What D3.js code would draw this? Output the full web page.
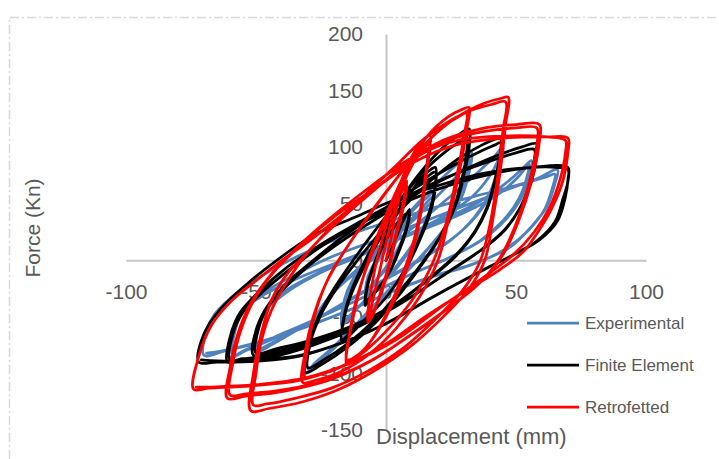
<!DOCTYPE html>
<html>
<head>
<meta charset="utf-8">
<script src="https://cdn.jsdelivr.net/npm/d3@7"></script>
<style>
  html, body { margin: 0; padding: 0; background: #fff; }
  svg { display: block; }
  text { font-family: "Liberation Sans", Arial, sans-serif; fill: #595959; }
</style>
</head>
<body>
<div id="chart"></div>
<script>
// Cyclic load test: force (kN) against displacement (mm), as [displacement, force] pairs in load order.
const experimental = [
  [0,0],[3,12],[6,26],[8,35],[7,22],[4,8],[0,-6],[-4,-18],[-7,-28],[-8,-33],
  [-7,-18],[-4,-4],[0,10],[4,22],[7,30],[8,32],[7,20],[4,6],[0,-8],[-4,-18],[-7,-26],[-8,-30],
  [-7,-15],[-4,0],[0,15],[6,33],[12,48],[16,56],[18,60],
  [17,45],[14,28],[9,10],[3,-8],[-4,-25],[-10,-40],[-15,-53],[-17,-58],
  [-16,-38],[-13,-20],[-8,-4],[-1,12],[7,30],[13,44],[16,52],[18,56],
  [17,42],[14,26],[9,8],[3,-10],[-4,-26],[-10,-40],[-15,-51],[-17,-55],
  [-16,-35],[-13,-18],[-7,0],[0,18],[8,40],[17,62],[25,80],[30,90],[33,95],
  [32,78],[29,55],[24,33],[17,12],[8,-10],[-2,-35],[-12,-60],[-21,-80],[-28,-95],[-31,-100],
  [-30,-72],[-27,-50],[-21,-30],[-12,-10],[-2,10],[9,32],[19,55],[27,74],[31,85],[32,90],
  [31,74],[28,52],[23,30],[16,10],[7,-12],[-3,-36],[-13,-60],[-21,-78],[-27,-90],[-30,-96],
  [-29,-70],[-26,-48],[-20,-28],[-10,-8],[0,10],[12,32],[24,55],[34,75],[41,90],[45,100],
  [44,85],[41,62],[35,40],[26,20],[14,2],[0,-16],[-15,-36],[-30,-56],[-42,-72],[-48,-80],[-50,-82],
  [-49,-60],[-46,-44],[-38,-28],[-26,-12],[-12,2],[4,18],[20,36],[33,56],[40,75],[43,88],[44,96],
  [43,82],[40,60],[34,38],[25,18],[13,0],[-1,-18],[-16,-38],[-31,-57],[-43,-72],[-48,-78],[-50,-80],
  [-49,-58],[-46,-42],[-38,-26],[-25,-10],[-10,5],[6,20],[22,36],[36,52],[46,68],[52,80],[56,88],
  [55,74],[52,55],[46,36],[37,18],[24,2],[8,-14],[-8,-32],[-25,-50],[-42,-68],[-54,-80],[-60,-86],
  [-59,-62],[-56,-46],[-48,-32],[-35,-17],[-20,-3],[-4,11],[13,26],[30,42],[43,58],[51,74],[55,85],
  [54,72],[51,54],[45,35],[36,17],[23,1],[7,-15],[-9,-33],[-26,-51],[-43,-68],[-54,-79],[-59,-84],
  [-58,-62],[-55,-45],[-48,-30],[-36,-14],[-22,2],[-6,16],[12,32],[30,48],[46,62],[58,72],[66,80],
  [65,68],[62,48],[56,30],[48,12],[35,-2],[18,-14],[3,-27],[-12,-42],[-30,-58],[-48,-72],[-62,-80],[-70,-84],
  [-69,-62],[-66,-48],[-57,-28],[-42,-6],[-22,16],[-6,29],[12,42],[30,54],[45,63],[56,70],[62,74],[65,76],
  [64,64],[61,45],[55,27],[46,10],[33,-4],[16,-16],[1,-29],[-14,-44],[-32,-60],[-50,-73],[-63,-80],[-69,-82]
];

const finiteElement = [
  [0,0],[3,15],[6,32],[9,45],[8,30],[5,10],[1,-12],[-4,-28],[-7,-37],[-8,-40],
  [-7,-22],[-4,-2],[0,18],[4,32],[7,40],[9,42],[8,28],[5,8],[1,-12],[-4,-27],[-7,-35],[-8,-38],
  [-7,-20],[-4,0],[0,22],[6,48],[12,68],[16,78],[19,82],
  [19,68],[17,45],[13,20],[8,-5],[1,-30],[-7,-50],[-13,-64],[-17,-72],
  [-16,-50],[-13,-28],[-8,-4],[-2,20],[5,45],[11,64],[16,74],[19,78],
  [19,64],[17,42],[13,18],[8,-6],[1,-30],[-7,-50],[-13,-62],[-17,-70],
  [-16,-48],[-13,-25],[-8,0],[-2,25],[6,55],[14,80],[22,100],[28,111],[32,116],
  [32,100],[30,75],[27,50],[22,25],[15,0],[6,-28],[-4,-55],[-15,-77],[-24,-91],[-31,-99],
  [-30,-75],[-26,-50],[-20,-25],[-12,2],[-3,30],[7,58],[16,82],[24,98],[29,106],[31,110],
  [31,95],[29,70],[26,46],[21,22],[14,-2],[5,-28],[-5,-54],[-15,-74],[-24,-88],[-30,-95],
  [-29,-72],[-25,-48],[-19,-25],[-11,0],[-2,25],[8,50],[18,72],[28,90],[37,102],[42,107],[44,108],
  [44,95],[42,72],[39,48],[34,25],[27,5],[17,-15],[4,-38],[-12,-58],[-28,-72],[-42,-80],[-51,-84],
  [-50,-62],[-46,-42],[-39,-22],[-29,-2],[-17,20],[-3,42],[12,65],[26,84],[37,97],[42,102],[44,104],
  [44,92],[42,70],[39,46],[34,24],[27,4],[17,-16],[4,-38],[-12,-57],[-28,-70],[-42,-78],[-50,-82],
  [-49,-60],[-45,-40],[-37,-20],[-27,0],[-15,20],[0,42],[15,63],[30,80],[42,92],[52,100],[58,103],
  [58,92],[56,70],[52,48],[46,28],[37,10],[24,-10],[8,-35],[-10,-58],[-28,-75],[-45,-86],[-56,-89],[-61,-90],
  [-60,-68],[-56,-46],[-48,-26],[-38,-6],[-25,14],[-10,34],[6,54],[22,72],[38,86],[50,95],[57,98],
  [57,88],[55,66],[51,44],[45,25],[36,8],[23,-12],[7,-36],[-11,-58],[-29,-74],[-45,-84],[-55,-87],[-60,-88],
  [-59,-66],[-55,-46],[-47,-27],[-37,-8],[-25,12],[-10,32],[6,50],[24,66],[42,77],[56,82],[70,82],
  [70,72],[69,56],[66,35],[59,18],[50,6],[38,-8],[20,-30],[0,-56],[-16,-72],[-32,-84],[-48,-89],[-65,-90],[-72,-90],
  [-70,-65],[-64,-44],[-53,-20],[-42,0],[-28,22],[-12,38],[3,53],[20,66],[38,77],[55,82],[66,82],[70,80],
  [70,70],[68,54],[65,34],[58,17],[49,5],[37,-9],[19,-31],[-1,-57],[-17,-73],[-33,-84],[-49,-88],[-65,-89],[-71,-88]
];

const retrofitted = [
  [0,0],[2,20],[4,45],[6,62],[8,70],[7,55],[4,25],[1,-5],[-3,-35],[-5,-48],[-7,-55],
  [-5,-35],[-2,-5],[1,25],[4,50],[6,60],[8,66],[7,50],[4,22],[1,-8],[-3,-36],[-5,-46],[-7,-52],
  [-6,-30],[-4,-5],[0,30],[5,65],[10,92],[14,105],[17,110],
  [16,90],[14,55],[11,20],[6,-15],[0,-48],[-6,-72],[-11,-86],[-15,-92],
  [-14,-65],[-12,-40],[-8,-10],[-2,25],[5,60],[11,88],[15,100],[17,104],
  [16,85],[14,50],[11,15],[6,-20],[0,-50],[-6,-72],[-11,-84],[-15,-88],
  [-13,-55],[-10,-25],[-6,5],[0,40],[8,80],[16,110],[24,127],[29,133],[32,135],
  [31,115],[28,75],[24,35],[20,0],[13,-32],[4,-60],[-6,-82],[-17,-98],[-27,-106],[-32,-108],
  [-31,-80],[-28,-50],[-23,-20],[-16,8],[-7,38],[4,72],[14,100],[22,118],[28,127],[31,130],
  [30,110],[27,72],[23,32],[18,-2],[11,-32],[2,-58],[-8,-80],[-18,-95],[-27,-102],[-31,-104],
  [-30,-75],[-27,-45],[-22,-15],[-14,15],[-5,45],[5,75],[16,105],[27,126],[38,139],[44,143],[47,144],
  [46,120],[44,80],[41,35],[38,0],[32,-25],[22,-50],[10,-75],[-4,-97],[-18,-114],[-32,-125],[-45,-131],[-52,-133],
  [-51,-100],[-48,-65],[-44,-35],[-38,-12],[-31,5],[-20,32],[-8,58],[4,84],[15,108],[30,130],[41,138],[46,140],
  [45,115],[43,75],[40,32],[36,-2],[29,-28],[19,-52],[7,-77],[-7,-98],[-21,-113],[-35,-122],[-46,-127],[-51,-128],
  [-50,-100],[-48,-72],[-44,-44],[-37,-15],[-29,10],[-17,37],[-4,63],[9,88],[22,106],[36,116],[50,120],[59,120],
  [59,105],[56,70],[51,35],[45,5],[37,-18],[24,-42],[10,-65],[-5,-88],[-22,-106],[-40,-116],[-54,-120],[-61,-122],
  [-60,-95],[-57,-65],[-52,-38],[-44,-12],[-33,14],[-20,40],[-6,65],[8,88],[22,105],[38,114],[50,117],[58,117],
  [58,102],[55,68],[50,32],[44,3],[36,-20],[23,-44],[9,-67],[-6,-89],[-23,-106],[-41,-115],[-54,-118],[-60,-119],
  [-59,-92],[-56,-63],[-51,-36],[-43,-10],[-32,15],[-19,40],[-4,64],[11,87],[27,102],[45,108],[62,109],[70,108],
  [70,96],[68,70],[64,47],[59,27],[53,8],[44,-8],[30,-28],[15,-50],[0,-74],[-16,-93],[-33,-106],[-52,-111],[-68,-113],[-74,-114],
  [-72,-85],[-67,-57],[-59,-35],[-50,-18],[-40,0],[-29,18],[-18,38],[-6,60],[6,82],[17,98],[30,107],[48,110],[62,109],[69,106],
  [69,95],[67,72],[63,47],[57,25],[49,5],[37,-16],[22,-40],[4,-70],[-13,-90],[-31,-104],[-50,-110],[-67,-112],[-73,-112]
];

const seriesNames = ["Experimental", "Finite Element", "Retrofetted"];
const seriesColors = ["#4f81bd", "#000000", "#ff0000"];
const xTicks = [-100, -50, 0, 50, 100];
const yTicks = [-150, -100, -50, 0, 50, 100, 150, 200];
const xTitle = "Displacement (mm)";
const yTitle = "Force (Kn)";

const W = 719, H = 459;
const svg = d3.select("#chart").append("svg").attr("width", W).attr("height", H);

// chart-area frame (dash-dot, runs off the right and bottom edges)
svg.append("path")
  .attr("d", `M9.5,${H} L9.5,17.5 L${W},17.5`)
  .attr("fill", "none")
  .attr("stroke", "#d9d9d9")
  .attr("stroke-width", 1.5)
  .attr("stroke-dasharray", "9,3,2,3");

const x = d3.scaleLinear().domain([-100, 100]).range([126, 646]);
const y = d3.scaleLinear().domain([-150, 200]).range([430, 34]);

// plain hyphen for negative tick labels
const tickText = d => String(d);

// axes cross at the origin
const xAxis = svg.append("g")
  .attr("transform", `translate(0,${y(0)})`)
  .call(d3.axisBottom(x).tickValues(xTicks).tickSize(0).tickPadding(24).tickFormat(tickText));
const yAxis = svg.append("g")
  .attr("transform", `translate(${x(0)},0)`)
  .call(d3.axisLeft(y).tickValues(yTicks).tickSize(0).tickPadding(23).tickFormat(tickText));

[xAxis, yAxis].forEach(g => {
  g.select(".domain").attr("stroke", "#c6c6c6").attr("stroke-width", 2);
  g.selectAll("text").attr("font-size", 21).attr("fill", "#595959")
    .attr("font-family", '"Liberation Sans", Arial, sans-serif');
});

// axis titles
svg.append("text")
  .attr("x", 376).attr("y", 444)
  .attr("font-size", 22)
  .text(xTitle);
svg.append("text")
  .attr("transform", "translate(40,228) rotate(-90)")
  .attr("text-anchor", "middle")
  .attr("font-size", 21)
  .text(yTitle);

// hysteresis curves, smoothed
const line = d3.line()
  .x(d => x(d[0]))
  .y(d => y(d[1]))
  .curve(d3.curveCatmullRom.alpha(0.5));

[experimental, finiteElement, retrofitted].forEach((data, i) => {
  svg.append("path")
    .datum(data)
    .attr("d", line)
    .attr("fill", "none")
    .attr("stroke", seriesColors[i])
    .attr("stroke-width", 2.75)
    .attr("stroke-linejoin", "round")
    .attr("stroke-linecap", "round");
});

// legend
const legend = svg.append("g");
seriesNames.forEach((name, i) => {
  const ly = 323 + i * 42;
  legend.append("line")
    .attr("x1", 527).attr("x2", 579).attr("y1", ly).attr("y2", ly)
    .attr("stroke", seriesColors[i]).attr("stroke-width", 2.75);
  legend.append("text")
    .attr("x", 585).attr("y", ly).attr("dy", "0.35em")
    .attr("font-size", 17)
    .text(name);
});
</script>
</body>
</html>
